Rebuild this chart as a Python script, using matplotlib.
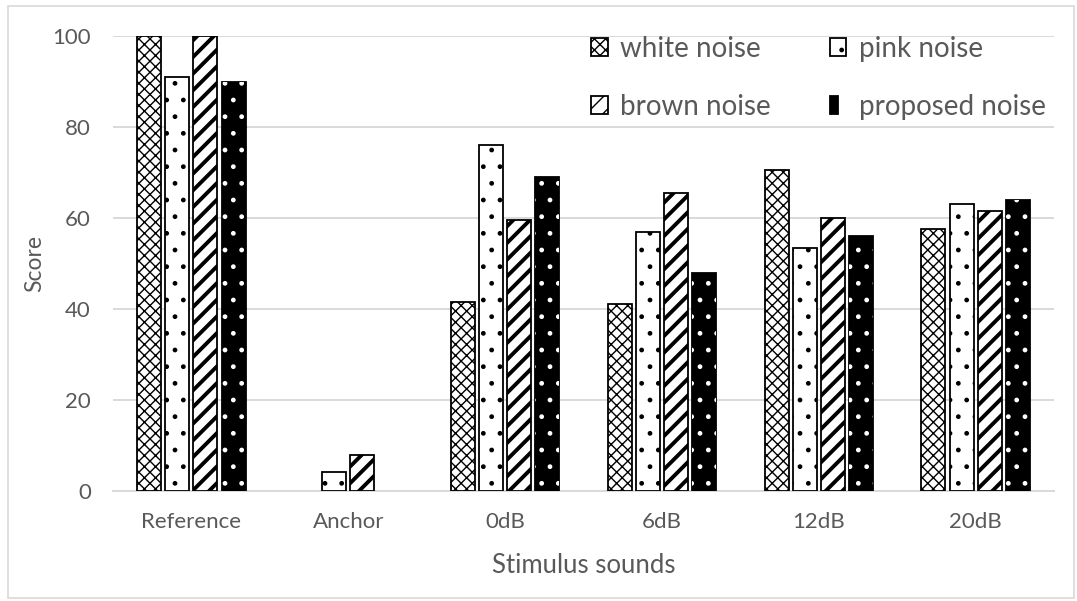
import matplotlib
matplotlib.use("Agg")
import matplotlib.pyplot as plt
from matplotlib.patches import Rectangle
from matplotlib.legend_handler import HandlerTuple
import numpy as np

plt.rcParams['font.family'] = ['Lato', 'DejaVu Sans']

categories = ["Reference", "Anchor", "0dB", "6dB", "12dB", "20dB"]
series_names = ["white noise", "pink noise", "brown noise", "proposed noise"]
white_noise = [100, 0, 41.5, 41, 70.5, 57.5]
pink_noise = [91, 4.2, 76, 57, 53.5, 63]
brown_noise = [100, 8, 59.5, 65.5, 60, 61.5]
proposed_noise = [90, 0, 69, 48, 56, 64]
y_ticks = [0, 20, 40, 60, 80, 100]

text_gray = "#595959"
grid_gray = "#d9d9d9"

fig = plt.figure(figsize=(10.77, 6.01), dpi=100)
ax = fig.add_axes([113 / 1077, 1 - 491 / 601, 941 / 1077, 455 / 601])

x = np.arange(len(categories))
width = 0.153
step = 0.179
offsets = (np.arange(4) - 1.5) * step


def set_hatch_lw(container, lw):
    for p in container:
        if hasattr(p, "set_hatch_linewidth"):
            p.set_hatch_linewidth(lw)


def hide_empty(container):
    # bars with no score are not drawn at all
    for p in container:
        if p.get_height() == 0:
            p.set_visible(False)


edge_lw = 1.3
b_white = ax.bar(x + offsets[0], white_noise, width, facecolor="white",
                 edgecolor="black", hatch="xxx", linewidth=edge_lw, zorder=3)
set_hatch_lw(b_white, 1.0)
b_pink = ax.bar(x + offsets[1], pink_noise, width, facecolor="white",
                edgecolor="black", hatch=".", linewidth=edge_lw, zorder=3)
b_brown = ax.bar(x + offsets[2], brown_noise, width, facecolor="white",
                 edgecolor="black", hatch="//", linewidth=edge_lw, zorder=3)
set_hatch_lw(b_brown, 2.8)
b_prop = ax.bar(x + offsets[3], proposed_noise, width, facecolor="black",
                edgecolor="black", linewidth=edge_lw, zorder=3)
b_prop_dots = ax.bar(x + offsets[3], proposed_noise, width, facecolor="none",
                     edgecolor="white", hatch=".", linewidth=0, zorder=4)
for c in (b_white, b_pink, b_brown, b_prop, b_prop_dots):
    hide_empty(c)

ax.set_xlim(-0.5, 5.5)
ax.set_ylim(0, 100)
ax.set_yticks(y_ticks)
ax.set_xticks(x)
ax.set_xticklabels(categories)
ax.tick_params(axis="both", length=0, labelsize=16, colors=text_gray)
ax.tick_params(axis="y", pad=16)
ax.tick_params(axis="x", pad=15)
ax.yaxis.grid(True, color=grid_gray, linewidth=1.4, zorder=0)
ax.set_axisbelow(True)
for side in ["top", "right", "left"]:
    ax.spines[side].set_visible(False)
ax.spines["bottom"].set_color(grid_gray)
ax.spines["bottom"].set_linewidth(1.4)
ax.spines["bottom"].set_zorder(2)

ax.set_ylabel("Score", fontsize=16.5, color=text_gray, labelpad=5)
ax.set_xlabel("Stimulus sounds", fontsize=18.5, color=text_gray, labelpad=15)

# legend fills column by column, so list entries to read row by row
handles = [b_white[0], b_brown[0], b_pink[0], (b_prop[0], b_prop_dots[0])]
labels = [series_names[0], series_names[2], series_names[1], series_names[3]]
leg = ax.legend(handles, labels, ncol=2, loc="upper right",
                bbox_to_anchor=(1.018, 1.055), frameon=False, fontsize=20,
                handlelength=0.6, handleheight=0.6, handletextpad=0.45,
                columnspacing=2.12, labelspacing=1.15,
                handler_map={tuple: HandlerTuple(ndivide=None, pad=0)})
for t in leg.get_texts():
    t.set_color(text_gray)

fig.patches.append(Rectangle((8 / 1077, 1 - 598 / 601), 1066 / 1077, 592 / 601,
                             transform=fig.transFigure, fill=False,
                             edgecolor=grid_gray, linewidth=1.2))

fig.savefig("out.png", dpi=100)
